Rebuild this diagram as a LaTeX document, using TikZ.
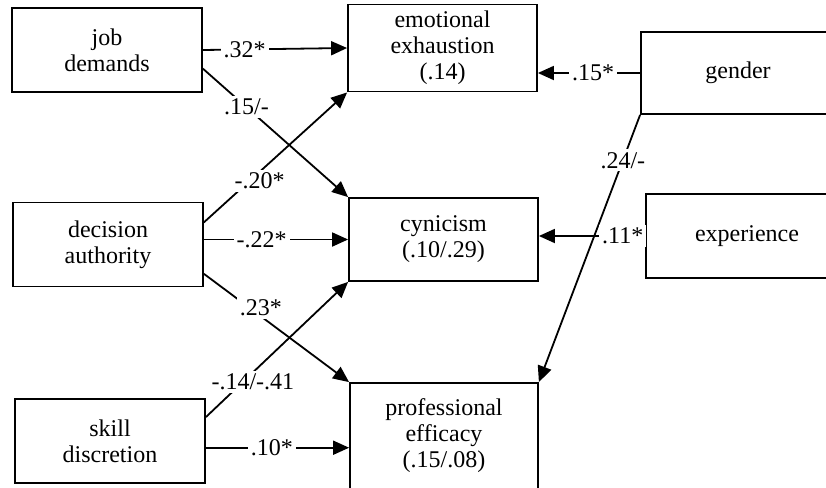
\documentclass[tikz,border=0pt]{standalone}
\usepackage{fontspec}
\setmainfont{Liberation Serif}
\usetikzlibrary{arrows.meta}

\begin{document}
\begin{tikzpicture}[x=0.5pt,y=-0.5pt,
    box/.style={draw, line width=0.9pt, align=center, minimum width=95pt, minimum height=42pt,
        font=\fontsize{12}{13}\selectfont},
    lbl/.style={fill=white, inner sep=1.5pt, font=\fontsize{12}{13}\selectfont},
    arr/.style={line width=0.9pt, -{Triangle[length=8pt,width=7pt]}}]
    \useasboundingbox (0,0) rectangle (826,488);

    % 左侧三个自变量
    \node[box] (jd) at (107,50) {job\\demands};
    \node[box] (da) at (108,244.5) {decision\\authority};
    \node[box] (sd) at (110,441) {skill\\discretion};

    % 中间三个结果变量
    \node[box, minimum width=94.5pt, minimum height=41pt] (ee) at (442.5,48) {emotional\\exhaustion\\(.14)};
    \node[box, minimum width=94.5pt, minimum height=41.5pt] (cyn) at (443.5,239.5) {cynicism\\(.10/.29)};
    \node[box, minimum width=94pt, minimum height=53pt] (pe) at (444,436) {professional\\efficacy\\(.15/.08)};

    % 右侧控制变量 (右边框超出画面)
    \node[box, minimum width=97pt, minimum height=41pt] (gen) at (738,73) {gender};
    \node[box, minimum width=101pt, minimum height=42pt] (exp) at (747,236) {experience};

    % 路径系数
    \draw[arr] (jd.east) -- node[lbl, pos=0.29] {.32*} (ee.west);
    \draw[arr] (jd.-11) -- node[lbl, pos=0.3] {.15/-} (cyn.north west);
    \draw[arr] (da.13) -- node[lbl, pos=0.32, xshift=5pt] {-.20*} (ee.south west);
    \draw[arr] (da.east |- cyn.west) -- node[lbl, pos=0.4] {-.22*} (cyn.west);
    \draw[arr] (da.-17) -- node[lbl, pos=0.31, xshift=6pt] {.23*} (pe.north west);
    \draw[arr] (sd.14) -- node[lbl, pos=0.26, xshift=5pt] {-.14/-.41} (cyn.south west);
    \draw[arr] (sd.-4) -- node[lbl, pos=0.46] {.10*} (sd.-4 -| pe.west);
    \draw[arr] (gen.west) -- node[lbl, pos=0.46] {.15*} (gen.west -| ee.east);
    \draw[arr] (gen.south west) -- node[lbl, pos=0.17] {.24/-} (pe.north east);
    \draw[arr] (exp.west) -- node[lbl, pos=0.21] {.11*} (exp.west -| cyn.east);
\end{tikzpicture}
\end{document}
